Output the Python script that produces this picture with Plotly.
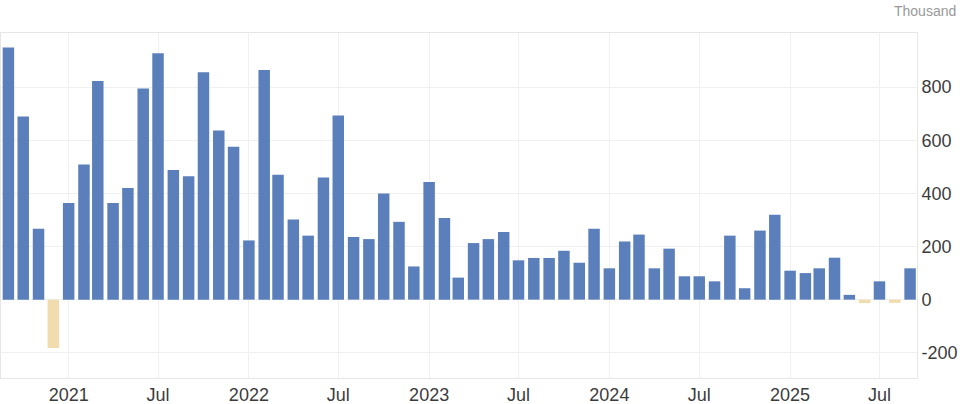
import plotly.graph_objects as go
import pandas as pd

# Monthly change, thousands (Sep 2020 - Sep 2025)
months = pd.date_range("2020-09-01", "2025-09-01", freq="MS")
values = [
    949, 690, 267, -182,                                        # 2020 Sep-Dec
    364, 509, 823, 364, 420, 795, 928, 488, 465, 856, 637, 576,   # 2021
    223, 865, 470, 302, 241, 460, 693, 236, 228, 400, 293, 125,   # 2022
    443, 307, 83, 213, 228, 255, 148, 157, 157, 184, 139, 267,    # 2023
    118, 219, 245, 118, 192, 88, 88, 69, 241, 43, 260, 320,       # 2024
    109, 100, 118, 158, 18, -13, 69, -12, 118,                    # 2025
]
tick_dates = ["2021-01-01", "2021-07-01", "2022-01-01", "2022-07-01", "2023-01-01",
              "2023-07-01", "2024-01-01", "2024-07-01", "2025-01-01", "2025-07-01"]
tick_text = ["2021", "Jul", "2022", "Jul", "2023", "Jul", "2024", "Jul", "2025", "Jul"]
y_ticks = [-200, 0, 200, 400, 600, 800]
y_tick_text = ["-200", "0", "200", "400", "600", "800"]

BLUE = "#5a7fbb"
TAN = "#f1dcad"
colors = [BLUE if v >= 0 else TAN for v in values]

fig = go.Figure(go.Bar(x=months, y=values, marker=dict(color=colors, line=dict(width=0)),
                       hoverinfo="x+y"))

axis_line = "#e6e6e6"
grid = "#f0f0f0"
label_color = "#3c3c3c"
fig.update_layout(
    width=960, height=404,
    margin=dict(l=1, r=43, t=33, b=26),
    paper_bgcolor="white", plot_bgcolor="white",
    bargap=0.17,
    showlegend=False,
    font=dict(family="Liberation Sans, Arial, sans-serif", color=label_color, size=18),
    xaxis=dict(
        type="date",
        range=["2020-08-17", "2025-09-15"],
        tickvals=tick_dates, ticktext=tick_text,
        showgrid=True, gridcolor=grid, gridwidth=1,
        showline=True, linecolor=axis_line, linewidth=1, mirror=True,
        ticks="", zeroline=False, automargin=False,
        tickfont=dict(size=18, color=label_color),
    ),
    yaxis=dict(
        side="right",
        range=[-295, 1004],
        tickvals=y_ticks, ticktext=y_tick_text,
        showgrid=True, gridcolor=grid, gridwidth=1,
        showline=True, linecolor=axis_line, linewidth=1, mirror=True,
        zeroline=False, ticks="", automargin=False,
        tickfont=dict(size=18, color=label_color),
    ),
    annotations=[dict(text="Thousand", xref="paper", yref="paper", x=1.0, y=1.0,
                      xanchor="right", yanchor="bottom", xshift=41, yshift=12,
                      showarrow=False, font=dict(size=14, color="#999999"))],
)

fig.write_html("out.html", config={"displayModeBar": False},
               post_script="document.body.style.margin='0';document.body.style.overflow='hidden';")
